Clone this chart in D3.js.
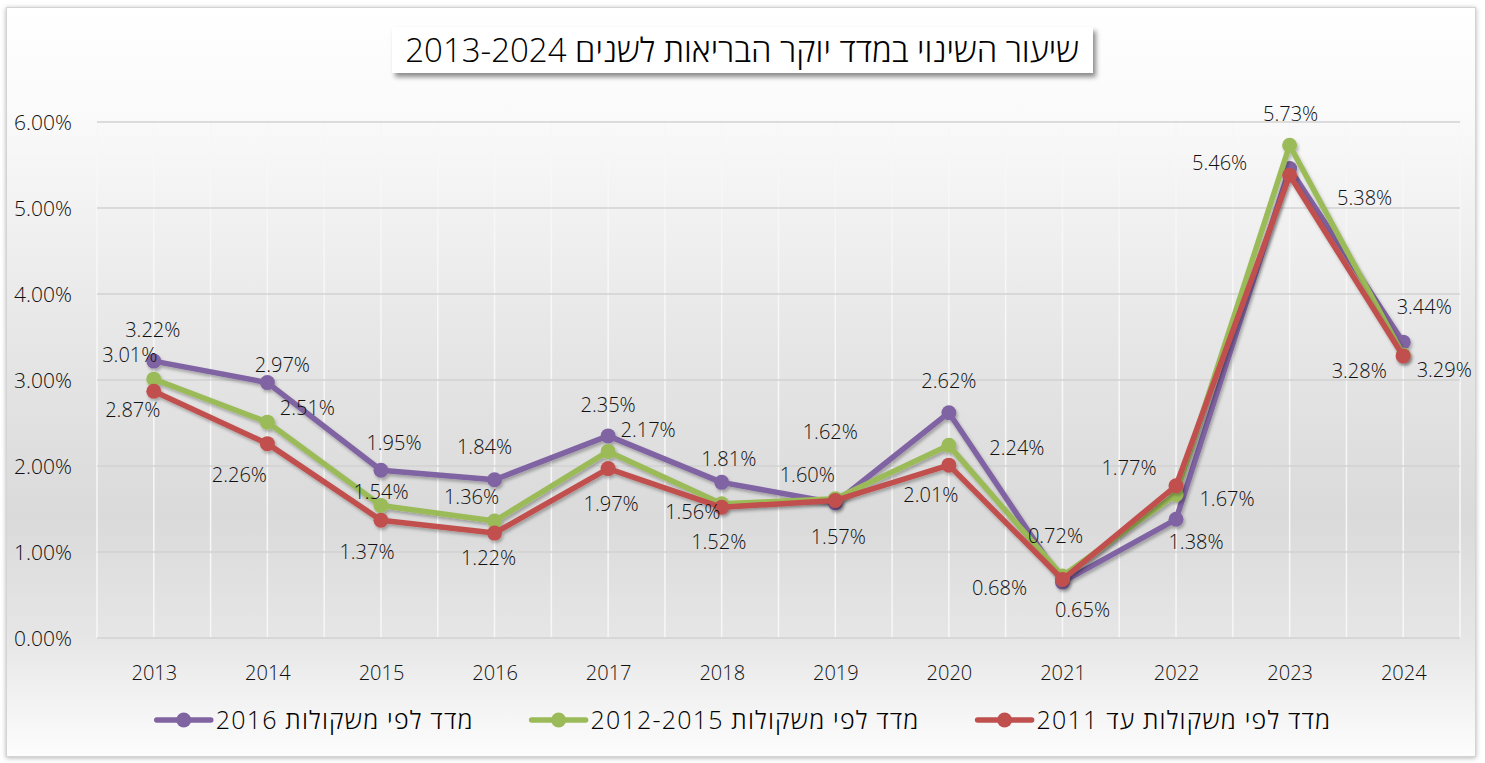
<!DOCTYPE html>
<html><head><meta charset="utf-8">
<script src="https://cdn.jsdelivr.net/npm/d3@7"></script>
<style>
body{margin:0;background:#fff;}
svg{display:block;font-family:"Open Sans","Segoe UI","DejaVu Sans",sans-serif;font-weight:300;}
</style>
</head><body>
<svg id="c" width="1485" height="763"></svg>
<script>
// ---- data ----
const years = ["2013","2014","2015","2016","2017","2018","2019","2020","2021","2022","2023","2024"];
const series2016 = [3.22,2.97,1.95,1.84,2.35,1.81,1.57,2.62,0.65,1.38,5.46,3.44];
const series2012_2015 = [3.01,2.51,1.54,1.36,2.17,1.56,1.62,2.24,0.72,1.67,5.73,3.29];
const series2011 = [2.87,2.26,1.37,1.22,1.97,1.52,1.60,2.01,0.68,1.77,5.38,3.28];
const seriesNames = ["מדד לפי משקולות 2016","מדד לפי משקולות 2012-2015","מדד לפי משקולות עד 2011"];
const yTicks = [0,1,2,3,4,5,6];
const titleText = "שיעור השינוי במדד יוקר הבריאות לשנים 2013-2024";

// ---- label placement (manual, like the original) ----
const labelOffsets2016 = [[-1,-31],[15,-18],[13,-27],[-10,-33],[0,-31],[7,-23],[3,34],[0,-32],[20,28],[20,23],[-70,-5],[21,-35]];
const labelOffsets2012_2015 = [[-24,-24],[40,-14],[0,-14],[-23,-24],[40,-21],[-29,8],[-5,-67],[68,3],[-7,-40],[51,5],[1,-31],[41,15]];
const labelOffsets2011 = [[-21,19],[-28,31],[-14,32],[-6,25],[3,35],[-3,35],[-28,-25],[-18,30],[-63,8],[-47,-18],[75,23],[-44,15]];

const colors = ["#8064A2","#9BBB59","#C0504D"];
const seriesList = [
  {name: seriesNames[0], values: series2016, offs: labelOffsets2016, color: colors[0]},
  {name: seriesNames[1], values: series2012_2015, offs: labelOffsets2012_2015, color: colors[1]},
  {name: seriesNames[2], values: series2011, offs: labelOffsets2011, color: colors[2]}
];

const svg = d3.select("#c");
const defs = svg.append("defs");

const bg = defs.append("linearGradient").attr("id","bg").attr("x1",0).attr("y1",0).attr("x2",0).attr("y2",1);
[[0,"#ffffff"],[0.14,"#fafafa"],[0.45,"#e6e6e6"],[0.68,"#dadada"],[0.84,"#e6e6e6"],[1,"#fdfdfd"]]
  .forEach(([o,c]) => bg.append("stop").attr("offset",o).attr("stop-color",c));

const sh = defs.append("filter").attr("id","sh").attr("x","-20%").attr("y","-20%").attr("width","140%").attr("height","140%");
sh.append("feDropShadow").attr("dx",1.5).attr("dy",2.5).attr("stdDeviation",1.8).attr("flood-color","#000").attr("flood-opacity",0.28);

const boxsh = defs.append("filter").attr("id","boxsh").attr("x","-5%").attr("y","-30%").attr("width","110%").attr("height","170%");
boxsh.append("feDropShadow").attr("dx",3).attr("dy",4).attr("stdDeviation",2.5).attr("flood-color","#000").attr("flood-opacity",0.45);

const framesh = defs.append("filter").attr("id","framesh").attr("x","-2%").attr("y","-2%").attr("width","104%").attr("height","104%");
framesh.append("feDropShadow").attr("dx",0).attr("dy",1).attr("stdDeviation",2.5).attr("flood-color","#000").attr("flood-opacity",0.3);

// chart frame
svg.append("rect").attr("x",6.5).attr("y",7.5).attr("width",1469).attr("height",749)
  .attr("fill","url(#bg)").attr("stroke","#d4d4d4").attr("stroke-width",1).attr("filter","url(#framesh)");

// scales
const x = d3.scalePoint().domain(years).range([97,1460]).padding(0.5);
const y = d3.scaleLinear().domain([0,6]).range([638,122]);
const step = x.step();

const g = svg.append("g");

// vertical gridlines (white) at centers and band edges
const vlines = [];
years.forEach((yr,i) => { vlines.push(x(yr) - step/2); vlines.push(x(yr)); });
vlines.push(x(years[years.length-1]) + step/2);
g.selectAll(".vg").data(vlines).join("line")
  .attr("x1",d=>d).attr("x2",d=>d).attr("y1",y(6)).attr("y2",y(0))
  .attr("stroke","#f7f7f7").attr("stroke-width",1.5);

// horizontal gridlines
g.selectAll(".hg").data(yTicks).join("line")
  .attr("x1",97).attr("x2",1460).attr("y1",d=>y(d)).attr("y2",d=>y(d))
  .attr("stroke","#d2d2d2").attr("stroke-width",1.5);

// y axis
const yAxis = d3.axisLeft(y).tickValues(yTicks).tickFormat(d => d3.format(".2%")(d/100)).tickSize(0).tickPadding(0);
const ya = svg.append("g").attr("transform","translate(72,0)").call(yAxis)
  .attr("font-family",null).attr("font-size",null);
ya.select(".domain").remove();
ya.selectAll("text").attr("font-size",21).attr("fill","#111").attr("dy","0.35em");

// x axis
const xAxis = d3.axisBottom(x).tickSize(0).tickPadding(0);
const xa = svg.append("g").attr("transform","translate(0,673)").call(xAxis)
  .attr("font-family",null).attr("font-size",null);
xa.select(".domain").remove();
xa.selectAll("text").attr("font-size",20).attr("fill","#111").attr("dy","0.35em");

// lines + markers
const line = d3.line().x((d,i)=>x(years[i])).y(d=>y(d));
seriesList.forEach(s => {
  const sg = svg.append("g").attr("filter","url(#sh)");
  sg.append("path").datum(s.values).attr("d",line).attr("fill","none")
    .attr("stroke",s.color).attr("stroke-width",5.5).attr("stroke-linejoin","round");
  sg.selectAll("circle").data(s.values).join("circle")
    .attr("cx",(d,i)=>x(years[i])).attr("cy",d=>y(d)).attr("r",7.5).attr("fill",s.color);
});

// data labels
seriesList.forEach(s => {
  svg.append("g").selectAll("text").data(s.values).join("text")
    .attr("x",(d,i)=>x(years[i]) + s.offs[i][0])
    .attr("y",(d,i)=>y(d) + s.offs[i][1])
    .attr("text-anchor","middle").attr("dy","0.35em")
    .attr("font-size",20).attr("fill","#111")
    .text(d => d3.format(".2%")(d/100));
});

// title
const tg = svg.append("g");
tg.append("rect").attr("x",392).attr("y",27).attr("width",701).attr("height",46)
  .attr("fill","#fff").attr("filter","url(#boxsh)");
tg.append("text").attr("x",742).attr("y",50).attr("dy","0.35em")
  .attr("text-anchor","middle").attr("direction","rtl")
  .attr("font-size",33).attr("fill","#000").text(titleText);

// legend (left to right: purple, green, red)
const lg = svg.append("g");
const leftToRight = [seriesList[0], seriesList[1], seriesList[2]];
const markW = 54, gapMT = 5, gapItems = 58, legY = 720;
const tmp = leftToRight.map(s => {
  const t = lg.append("text").attr("font-size",25).attr("letter-spacing",1.2).attr("fill","#000")
    .attr("direction","rtl").attr("text-anchor","start").attr("dy","0.35em").attr("y",legY).text(s.name);
  return {s, t, w: t.node().getComputedTextLength()};
});
const total = d3.sum(tmp, d => d.w + markW + gapMT) + gapItems*(tmp.length-1);
let cx = 744 - total/2;
tmp.forEach(d => {
  lg.append("line").attr("x1",cx).attr("x2",cx+markW).attr("y1",legY).attr("y2",legY)
    .attr("stroke",d.s.color).attr("stroke-width",5.5).attr("stroke-linecap","round");
  lg.append("circle").attr("cx",cx+markW/2).attr("cy",legY).attr("r",7.5).attr("fill",d.s.color);
  const right = cx + markW + gapMT + d.w;
  d.t.attr("x", right);
  cx = right + gapItems;
});
</script>
</body></html>
